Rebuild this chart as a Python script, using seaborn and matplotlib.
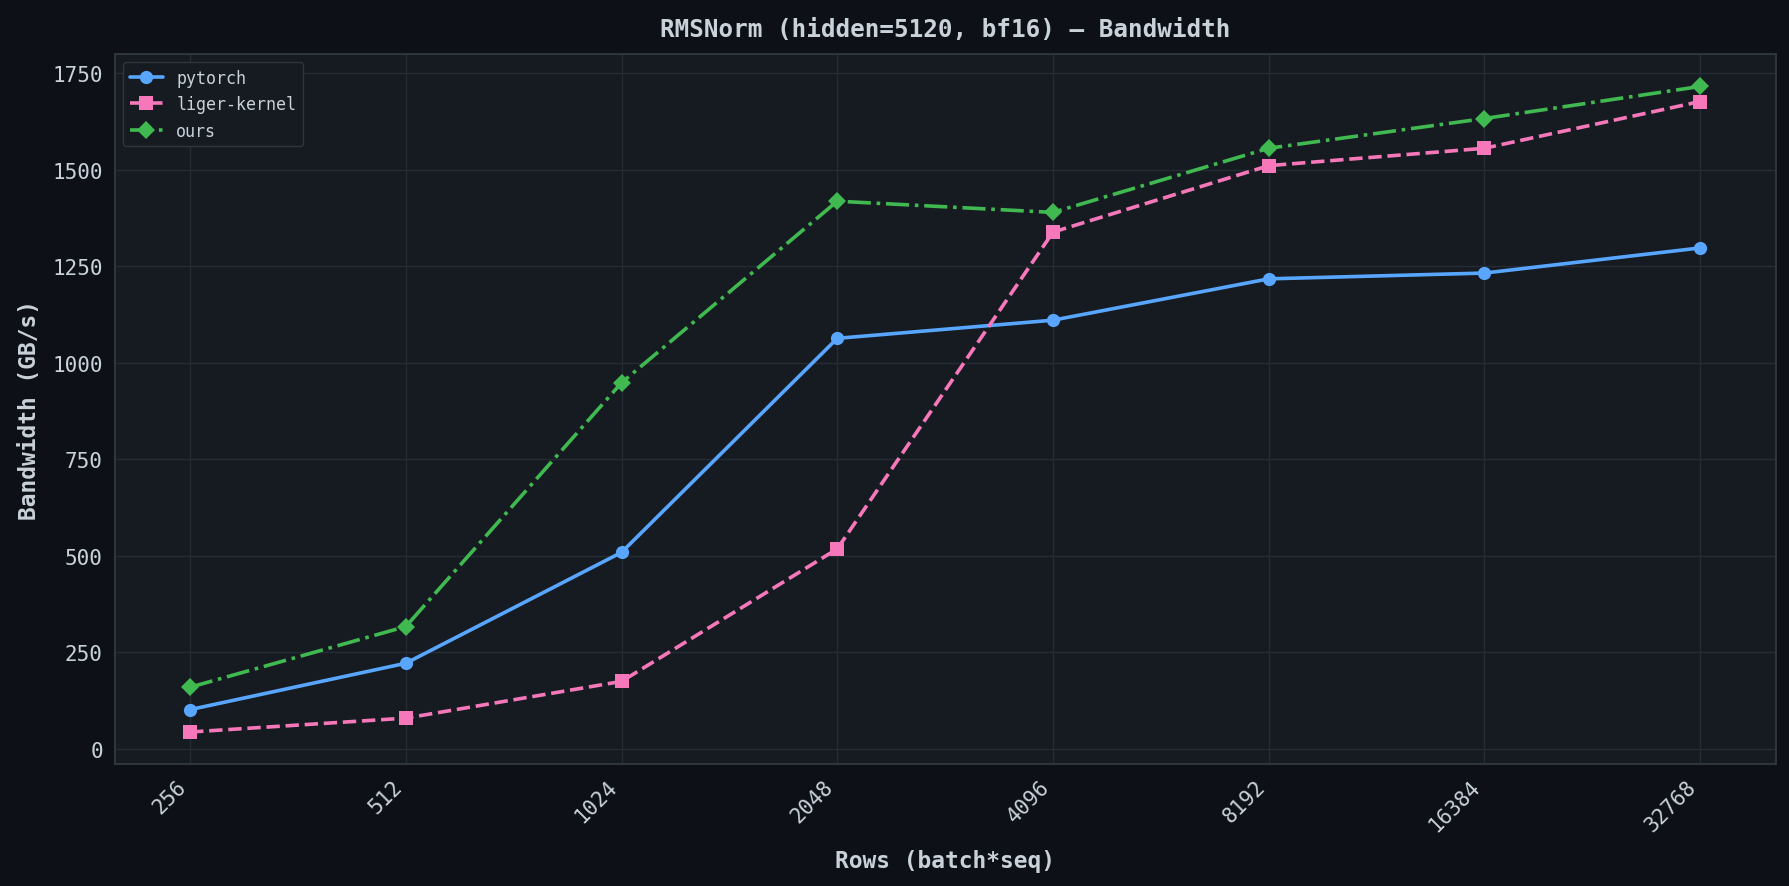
'''RMSNorm bandwidth comparison chart'''
import numpy as np
import pandas as pd
import seaborn as sns
import matplotlib.pyplot as plt

# Data
rows = [256, 512, 1024, 2048, 4096, 8192, 16384, 32768]
pytorch_bw = [102, 222, 509, 1063, 1110, 1217, 1232, 1297]
liger_bw = [44, 80, 175, 518, 1338, 1510, 1555, 1676]
ours_bw = [160, 317, 948, 1418, 1389, 1555, 1632, 1715]

series = ['pytorch', 'liger-kernel', 'ours']
colors = {'pytorch': '#58a6ff', 'liger-kernel': '#f778ba', 'ours': '#3fb950'}
markers = {'pytorch': 'o', 'liger-kernel': 's', 'ours': 'D'}
dashes = {'pytorch': '-', 'liger-kernel': '--', 'ours': '-.'}

df = pd.DataFrame({
    'pos': list(range(len(rows))) * 3,
    'bw': pytorch_bw + liger_bw + ours_bw,
    'impl': np.repeat(series, len(rows)),
})

bg = '#0d1117'
panel = '#161b22'
fg = '#c9d1d9'
edge = '#30363d'

sns.set_theme(style='darkgrid')
plt.rcParams['font.family'] = ['DejaVu Sans Mono', 'DejaVu Sans']
plt.rcParams.update({
    'figure.facecolor': bg,
    'axes.facecolor': panel,
    'axes.edgecolor': edge,
    'grid.color': '#262c36',
    'text.color': fg,
    'axes.labelcolor': fg,
    'xtick.color': fg,
    'ytick.color': fg,
})

fig, ax = plt.subplots(figsize=(17.9, 8.87), dpi=100)
fig.subplots_adjust(left=0.064, right=0.992, top=0.938, bottom=0.137)

for name in series:
    sub = df[df['impl'] == name]
    sns.lineplot(
        data=sub, x='pos', y='bw', ax=ax,
        color=colors[name], marker=markers[name], linestyle=dashes[name],
        linewidth=2.6, markersize=9.5, markeredgewidth=0, label=name,
    )

ax.set_xticks(range(len(rows)))
ax.set_xticklabels([str(r) for r in rows], rotation=45, ha='right', fontsize=15)
ax.tick_params(axis='y', labelsize=15)
ax.tick_params(axis='both', length=5, width=1.4, color='#8b949e')
ax.set_xlim(-0.35, 7.35)
ax.set_ylim(-40, 1799)
ax.set_yticks([0, 250, 500, 750, 1000, 1250, 1500, 1750])
ax.grid(True, linewidth=1)
for s in ax.spines.values():
    s.set_visible(True)
    s.set_color(edge)
    s.set_linewidth(1.4)

ax.set_xlabel('Rows (batch*seq)', fontsize=16.5, fontweight='bold', labelpad=10)
ax.set_ylabel('Bandwidth (GB/s)', fontsize=16.5, fontweight='bold', labelpad=8)
ax.set_title('RMSNorm (hidden=5120, bf16) — Bandwidth', fontsize=17.5,
             fontweight='bold', pad=13)

leg = ax.legend(loc='upper left', fontsize=12, facecolor=panel,
                edgecolor=edge, framealpha=1)
for t in leg.get_texts():
    t.set_color(fg)

fig.savefig('out.png', dpi=100, facecolor=bg)
